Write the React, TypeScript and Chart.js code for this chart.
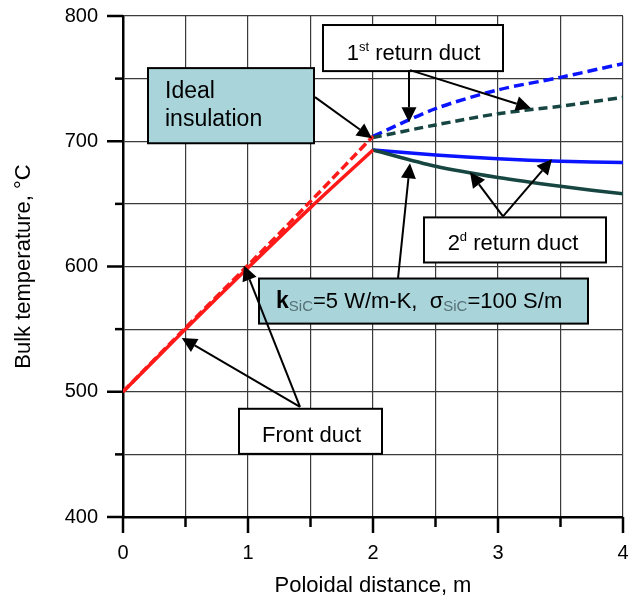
import React, { useEffect, useRef } from 'react';
import { Chart, registerables } from 'chart.js';

Chart.register(...registerables);

// ---------- data ----------
const frontX = [0, 0.5, 1, 1.5, 2];
const frontSolid = [500, 550, 599, 647, 693];
const frontDashed = [500, 551, 601, 652, 704];
const returnX = [2, 2.5, 3, 3.5, 4];
const ret1Blue = [704, 726, 741, 751, 762];
const ret1Green = [703, 713, 722, 728, 735];
const ret2Blue = [693, 689, 686, 684, 683];
const ret2Green = [693, 680, 671, 664, 658];
const xTickLabels = [0, 1, 2, 3, 4];
const yTickLabels = [400, 500, 600, 700, 800];

const FONT = '"Liberation Sans", Arial, Helvetica, sans-serif';
const RED = '#ff1a1a';
const BLUE = '#0a14ff';
const GREEN = '#174642';
const BOXBLUE = '#a8d4da';

type Part = { t: string; size: number; bold?: boolean; dy?: number; color?: string };
type Box = {
  x0: number; x1: number; y0: number; y1: number; fill: string;
  lines: { x: number; y: number; align: 'left' | 'center'; parts: Part[] }[];
};
type Arrow = { from: [number, number]; to: [number, number] };

const boxes: Box[] = [
  {
    x0: 0.2, x1: 1.528, y0: 758.4, y1: 698.4, fill: BOXBLUE,
    lines: [
      { x: 0.336, y: 734.4, align: 'left', parts: [{ t: 'Ideal', size: 23 }] },
      { x: 0.336, y: 712, align: 'left', parts: [{ t: 'insulation', size: 23 }] },
    ],
  },
  {
    x0: 1.6, x1: 3.04, y0: 792.8, y1: 756, fill: '#ffffff',
    lines: [
      { x: 2.324, y: 764.8, align: 'center', parts: [{ t: '1', size: 22 }, { t: 'st', size: 13, dy: -9 }, { t: ' return duct', size: 22 }] },
    ],
  },
  {
    x0: 2.408, x1: 3.864, y0: 639.2, y1: 603.2, fill: '#ffffff',
    lines: [
      { x: 3.12, y: 612.8, align: 'center', parts: [{ t: '2', size: 22 }, { t: 'd', size: 13, dy: -9 }, { t: ' return duct', size: 22 }] },
    ],
  },
  {
    x0: 1.088, x1: 3.72, y0: 590.4, y1: 554.4, fill: BOXBLUE,
    lines: [
      {
        x: 1.224, y: 567.2, align: 'left', parts: [
          { t: 'k', size: 23, bold: true },
          { t: 'SiC', size: 15, dy: 3, color: '#587078' },
          { t: '=5 W/m-K,  ', size: 22 },
          { t: 'σ', size: 22 },
          { t: 'SiC', size: 15, dy: 3, color: '#587078' },
          { t: '=100 S/m', size: 22 },
        ],
      },
    ],
  },
  {
    x0: 0.928, x1: 2.072, y0: 486.4, y1: 450.4, fill: '#ffffff',
    lines: [
      { x: 1.112, y: 460, align: 'left', parts: [{ t: 'Front duct', size: 22 }] },
    ],
  },
];

const arrows: Arrow[] = [
  { from: [1.536, 735.2], to: [1.992, 702.4] },
  { from: [2.288, 756.8], to: [2.288, 715.2] },
  { from: [2.296, 756.8], to: [3.264, 726.4] },
  { from: [3.04, 640], to: [2.776, 675.2] },
  { from: [3.04, 640], to: [3.432, 685.6] },
  { from: [2.2, 590.4], to: [2.296, 682.4] },
  { from: [1.416, 488], to: [0.968, 600.8] },
  { from: [1.416, 488], to: [0.47, 543] },
];

function drawParts(ctx: CanvasRenderingContext2D, parts: Part[], x: number, y: number, align: 'left' | 'center') {
  let total = 0;
  const widths = parts.map((p) => {
    ctx.font = `${p.bold ? 'bold ' : ''}${p.size}px ${FONT}`;
    const w = ctx.measureText(p.t).width;
    total += w;
    return w;
  });
  let cx = align === 'center' ? x - total / 2 : x;
  ctx.textAlign = 'left';
  ctx.textBaseline = 'alphabetic';
  parts.forEach((p, i) => {
    ctx.font = `${p.bold ? 'bold ' : ''}${p.size}px ${FONT}`;
    ctx.fillStyle = p.color || '#000';
    ctx.fillText(p.t, cx, y + (p.dy || 0));
    cx += widths[i];
  });
}

const overlayPlugin = {
  id: 'overlay',
  afterDraw(chart: any) {
    const { ctx, chartArea } = chart;
    const xs = chart.scales.x;
    const ys = chart.scales.y;
    const px = (v: number) => xs.getPixelForValue(v);
    const py = (v: number) => ys.getPixelForValue(v);
    ctx.save();
    // tick marks
    ctx.strokeStyle = '#000';
    ctx.lineWidth = 2.5;
    xs.ticks.forEach((t: any) => {
      const X = px(t.value);
      const major = xTickLabels.includes(t.value);
      ctx.beginPath();
      ctx.moveTo(X, chartArea.bottom);
      ctx.lineTo(X, chartArea.bottom + (major ? 16 : 10));
      ctx.stroke();
    });
    ys.ticks.forEach((t: any) => {
      const Y = py(t.value);
      const major = yTickLabels.includes(t.value);
      ctx.beginPath();
      ctx.moveTo(chartArea.left, Y);
      ctx.lineTo(chartArea.left - (major ? 16 : 8), Y);
      ctx.stroke();
    });
    // boxes
    boxes.forEach((b) => {
      const L = px(b.x0), R = px(b.x1), T = py(b.y0), B = py(b.y1);
      ctx.fillStyle = b.fill;
      ctx.fillRect(L, T, R - L, B - T);
      ctx.strokeStyle = '#000';
      ctx.lineWidth = 2;
      ctx.strokeRect(L, T, R - L, B - T);
      b.lines.forEach((ln) => drawParts(ctx, ln.parts, px(ln.x), py(ln.y), ln.align));
    });
    // arrows
    arrows.forEach((a) => {
      const x1 = px(a.from[0]), y1 = py(a.from[1]);
      const x2 = px(a.to[0]), y2 = py(a.to[1]);
      const ang = Math.atan2(y2 - y1, x2 - x1);
      const len = 15, hw = 7.5;
      const bx = x2 - len * Math.cos(ang), by = y2 - len * Math.sin(ang);
      ctx.strokeStyle = '#000';
      ctx.lineWidth = 2;
      ctx.beginPath();
      ctx.moveTo(x1, y1);
      ctx.lineTo(bx, by);
      ctx.stroke();
      ctx.fillStyle = '#000';
      ctx.beginPath();
      ctx.moveTo(x2, y2);
      ctx.lineTo(bx + hw * Math.sin(ang), by - hw * Math.cos(ang));
      ctx.lineTo(bx - hw * Math.sin(ang), by + hw * Math.cos(ang));
      ctx.closePath();
      ctx.fill();
    });
    ctx.restore();
  },
};

function series(xv: number[], yv: number[], color: string, dash: number[]) {
  return {
    data: xv.map((x, i) => ({ x, y: yv[i] })),
    borderColor: color,
    backgroundColor: color,
    borderWidth: 3.5,
    borderDash: dash,
    pointRadius: 0,
    showLine: true,
    tension: 0.3,
    fill: false,
  };
}

export default function App() {
  const ref = useRef<HTMLCanvasElement | null>(null);
  useEffect(() => {
    if (!ref.current) return;
    const chart = new Chart(ref.current, {
      type: 'scatter',
      data: {
        datasets: [
          series(frontX, frontSolid, RED, []),
          series(frontX, frontDashed, RED, [9, 4]),
          series(returnX, ret2Green, GREEN, []),
          series(returnX, ret2Blue, BLUE, []),
          series(returnX, ret1Green, GREEN, [9, 5]),
          series(returnX, ret1Blue, BLUE, [10, 5]),
        ] as any,
      },
      options: {
        animation: false,
        responsive: false,
        maintainAspectRatio: false,
        layout: { padding: { top: 16, right: 6, left: 0, bottom: 0 } },
        plugins: { legend: { display: false }, tooltip: { enabled: false } },
        scales: {
          x: {
            type: 'linear',
            min: 0,
            max: 4,
            ticks: {
              stepSize: 0.5,
              autoSkip: false,
              maxRotation: 0,
              padding: 8,
              color: '#000',
              font: { family: FONT, size: 20 },
              callback: (v: any) => (xTickLabels.includes(Number(v)) ? String(v) : ''),
            },
            grid: { color: '#3a3a3a', lineWidth: 1.2, tickLength: 16, tickColor: 'rgba(0,0,0,0)' },
            border: { display: true, color: '#000', width: 2.5 },
            title: { display: true, text: 'Poloidal distance, m', color: '#000', font: { family: FONT, size: 22 }, padding: { top: 0, bottom: 0 } },
            afterFit: (s: any) => { s.height = 82; s.paddingLeft = 0; s.paddingRight = 0; },
          },
          y: {
            type: 'linear',
            min: 400,
            max: 800,
            ticks: {
              stepSize: 50,
              autoSkip: false,
              padding: 9,
              color: '#000',
              font: { family: FONT, size: 20 },
              callback: (v: any) => (yTickLabels.includes(Number(v)) ? String(v) : ''),
            },
            grid: { color: '#3a3a3a', lineWidth: 1.2, tickLength: 16, tickColor: 'rgba(0,0,0,0)' },
            border: { display: true, color: '#000', width: 2.5 },
            title: { display: true, text: 'Bulk temperature, °C', color: '#000', font: { family: FONT, size: 22 }, padding: { top: 11, bottom: 0 } },
            afterFit: (s: any) => { s.width = 123; s.paddingTop = 0; s.paddingBottom = 0; },
          },
        },
      } as any,
      plugins: [overlayPlugin],
    });
    return () => chart.destroy();
  }, []);
  return (
    <div style={{ position: 'fixed', left: 0, top: 0, width: 629, height: 599, background: '#fff' }}>
      <canvas ref={ref} width={629} height={599} style={{ display: 'block' }} />
    </div>
  );
}
